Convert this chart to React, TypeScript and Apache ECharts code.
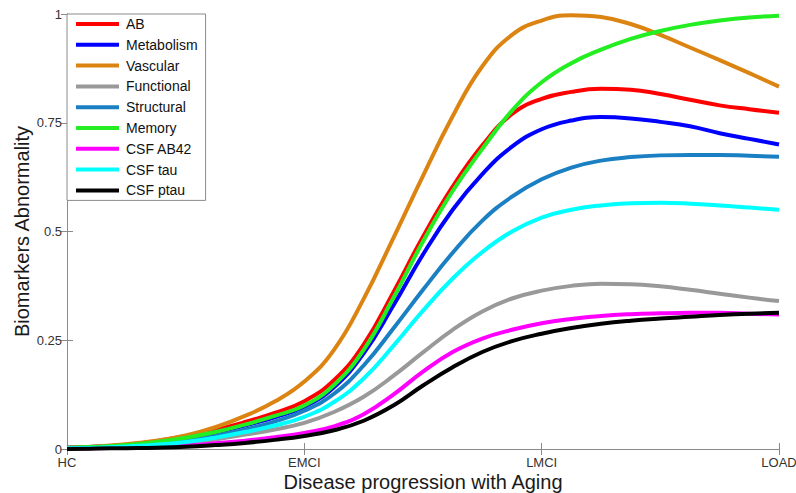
import React, { useEffect, useRef } from "react";
import * as echarts from "echarts";

const stageLabels = ["HC", "EMCI", "LMCI", "LOAD"];
const progression = [
  0, 0.125, 0.25, 0.375, 0.5, 0.625, 0.75, 0.875, 1, 1.125, 1.25, 1.375, 1.5,
  1.625, 1.75, 1.875, 2, 2.125, 2.25, 2.375, 2.5, 2.625, 2.75, 2.875, 3,
];

const seriesNames = ["AB", "Metabolism", "Vascular", "Functional", "Structural", "Memory", "CSF AB42", "CSF tau", "CSF ptau"];
const seriesColors = ["#ff0000", "#0000ff", "#dc8412", "#999999", "#1b80c3", "#22ee22", "#ff00ff", "#00ffff", "#000000"];

const ab = [0.003, 0.005, 0.01, 0.018, 0.03, 0.044, 0.062, 0.083, 0.11, 0.158, 0.24, 0.36, 0.488, 0.603, 0.698, 0.77, 0.805, 0.821, 0.828, 0.826, 0.816, 0.803, 0.79, 0.781, 0.773];
const metabolism = [0.003, 0.005, 0.009, 0.015, 0.025, 0.038, 0.054, 0.073, 0.097, 0.142, 0.22, 0.33, 0.447, 0.55, 0.632, 0.695, 0.735, 0.755, 0.763, 0.76, 0.752, 0.742, 0.726, 0.713, 0.7];
const vascular = [0.003, 0.006, 0.011, 0.019, 0.031, 0.05, 0.076, 0.109, 0.155, 0.228, 0.345, 0.485, 0.628, 0.765, 0.88, 0.952, 0.985, 0.997, 0.993, 0.977, 0.952, 0.923, 0.894, 0.864, 0.833];
const functional = [0.002, 0.003, 0.005, 0.009, 0.014, 0.022, 0.033, 0.045, 0.06, 0.085, 0.12, 0.168, 0.222, 0.274, 0.316, 0.346, 0.364, 0.375, 0.38, 0.379, 0.374, 0.366, 0.357, 0.348, 0.34];
const structural = [0.002, 0.004, 0.007, 0.012, 0.019, 0.03, 0.045, 0.063, 0.088, 0.127, 0.192, 0.277, 0.366, 0.451, 0.525, 0.58, 0.62, 0.647, 0.663, 0.671, 0.675, 0.676, 0.676, 0.674, 0.672];
const memory = [0.003, 0.005, 0.009, 0.016, 0.026, 0.039, 0.056, 0.076, 0.1, 0.147, 0.228, 0.347, 0.477, 0.593, 0.69, 0.778, 0.843, 0.887, 0.918, 0.943, 0.961, 0.975, 0.985, 0.992, 0.996];
const csfAb42 = [0.001, 0.002, 0.003, 0.005, 0.008, 0.013, 0.019, 0.027, 0.037, 0.052, 0.08, 0.125, 0.178, 0.223, 0.254, 0.274, 0.289, 0.299, 0.306, 0.31, 0.312, 0.313, 0.313, 0.311, 0.309];
const csfTau = [0.002, 0.003, 0.006, 0.01, 0.016, 0.026, 0.039, 0.054, 0.074, 0.108, 0.162, 0.237, 0.318, 0.392, 0.453, 0.5, 0.532, 0.55, 0.56, 0.565, 0.566, 0.564, 0.56, 0.555, 0.55];
const csfPtau = [0.0, 0.001, 0.002, 0.003, 0.005, 0.009, 0.014, 0.021, 0.03, 0.043, 0.065, 0.1, 0.146, 0.188, 0.223, 0.248, 0.265, 0.278, 0.288, 0.295, 0.3, 0.304, 0.308, 0.311, 0.313];

const seriesValues = [ab, metabolism, vascular, functional, structural, memory, csfAb42, csfTau, csfPtau];

const FONT = "'Liberation Sans', Arial, sans-serif";
const AXIS_GRAY = "#8a8a8a";

export default function App() {
  const ref = useRef<HTMLDivElement>(null);
  useEffect(() => {
    document.body.style.margin = "0";
    if (!ref.current) return;
    const chart = echarts.init(ref.current, undefined, { renderer: "svg" });
    const axisCommon = {
      axisLine: { show: true, lineStyle: { color: AXIS_GRAY, width: 1 } },
      axisTick: { show: true, inside: true, length: 6, lineStyle: { color: AXIS_GRAY } },
      splitLine: { show: false },
      nameMoveOverlap: false,
    };
    chart.setOption({
      animation: false,
      backgroundColor: "#ffffff",
      textStyle: { fontFamily: FONT },
      grid: { left: 67, right: 17, top: 14, bottom: 44, containLabel: false, outerBoundsMode: "none" },
      legend: {
        show: true,
        orient: "vertical",
        left: 67,
        top: 14,
        padding: [3, 8, 3, 9],
        itemGap: 6.8,
        itemWidth: 43,
        itemHeight: 4,
        icon: "rect",
        backgroundColor: "#ffffff",
        borderColor: AXIS_GRAY,
        borderWidth: 1,
        borderRadius: 0,
        textStyle: { fontFamily: FONT, fontSize: 14, lineHeight: 14, color: "#111111", padding: [0, 0, 0, 2] },
        data: seriesNames,
      },
      xAxis: [
        {
          type: "value",
          min: 0,
          max: 3,
          interval: 1,
          ...axisCommon,
          axisLabel: {
            show: true,
            margin: 7,
            fontSize: 13,
            color: "#333333",
            fontFamily: FONT,
            formatter: (v: number) => stageLabels[Math.round(v)] ?? "",
          },
          name: "Disease progression with Aging",
          nameLocation: "middle",
          nameGap: 23,
          nameTextStyle: { fontSize: 20, color: "#1a1a1a", fontFamily: FONT },
        },
        {
          type: "value",
          position: "top",
          min: 0,
          max: 3,
          interval: 1,
          ...axisCommon,
          axisLabel: { show: false },
        },
      ],
      yAxis: [
        {
          type: "value",
          min: 0,
          max: 1,
          interval: 0.25,
          ...axisCommon,
          axisLabel: { show: true, margin: 5, fontSize: 13, color: "#333333", fontFamily: FONT },
          name: "Biomarkers Abnormality",
          nameLocation: "middle",
          nameGap: 35,
          nameTextStyle: { fontSize: 20, color: "#1a1a1a", fontFamily: FONT },
        },
        {
          type: "value",
          position: "right",
          min: 0,
          max: 1,
          interval: 0.25,
          ...axisCommon,
          axisLabel: { show: false },
        },
      ],
      series: seriesNames.map((name, i) => ({
        name,
        type: "line",
        xAxisIndex: 0,
        yAxisIndex: 0,
        showSymbol: false,
        smooth: 0.45,
        color: seriesColors[i],
        lineStyle: { width: 4, color: seriesColors[i] },
        data: progression.map((x, j) => [x, seriesValues[i][j]]),
      })),
    });
    return () => chart.dispose();
  }, []);
  return <div ref={ref} style={{ width: 796, height: 493 }} />;
}
